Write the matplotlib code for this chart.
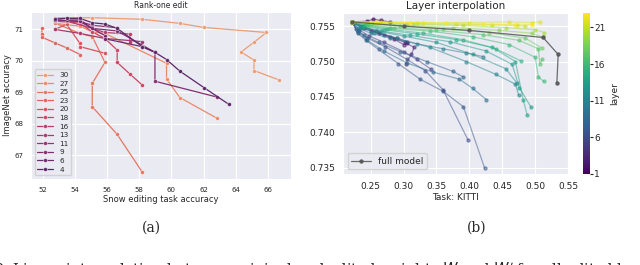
import matplotlib
matplotlib.use("Agg")
import matplotlib.pyplot as plt
import seaborn as sns
import numpy as np

sns.set_style("darkgrid")
plt.rcParams["font.family"] = ["DejaVu Sans"]

# ---- (a) rank-one edit: snow accuracy vs imagenet accuracy per layer
layers_a = [30, 27, 25, 23, 20, 18, 16, 13, 11, 9, 6, 4]
snow = {
    30: [52.76, 55.08, 58.19, 60.53, 62.02, 65.91, 65.14, 64.34, 65.14, 65.14, 66.70],
    27: [52.76, 54.32, 55.08, 55.87, 59.70, 59.70, 60.53, 62.81],
    25: [52.76, 54.32, 55.08, 55.87, 55.08, 55.08, 56.63, 58.19],
    23: [51.95, 51.95, 51.95, 52.76, 53.49, 54.32],
    20: [52.76, 53.49, 54.32, 54.32, 55.87],
    18: [52.76, 54.32, 55.08, 55.87, 56.63, 56.63, 57.42, 58.19],
    16: [53.49, 55.08, 55.87, 57.42, 57.42],
    13: [52.76, 54.32, 55.87, 58.19],
    11: [52.76, 54.32, 55.08, 56.63, 56.63],
    9: [53.49, 54.32, 55.08, 56.63, 58.98, 58.98, 62.81],
    6: [52.76, 54.32, 55.87, 55.87, 58.19, 58.98],
    4: [52.76, 53.49, 54.32, 55.08, 55.87, 56.63, 58.19, 58.98, 59.70, 60.53, 62.02, 63.59],
}
imnet = {
    30: [71.37, 71.37, 71.32, 71.19, 71.06, 70.90, 70.59, 70.28, 70.02, 69.69, 69.39],
    27: [71.19, 71.10, 70.92, 70.87, 69.92, 69.42, 68.83, 68.18],
    25: [71.20, 70.87, 70.77, 69.95, 69.28, 68.54, 67.66, 66.46],
    23: [71.03, 70.85, 70.75, 70.57, 70.41, 70.20],
    20: [71.00, 71.16, 70.55, 70.45, 70.24],
    18: [71.26, 71.20, 70.92, 70.71, 70.34, 69.95, 69.58, 69.23],
    16: [71.26, 71.03, 70.90, 70.85, 70.60],
    13: [71.00, 70.87, 70.71, 70.61],
    11: [71.30, 71.25, 71.13, 71.05, 70.90],
    9: [71.30, 71.30, 71.03, 70.95, 70.27, 69.35, 68.85],
    6: [71.30, 71.25, 70.80, 70.70, 70.45, 70.27],
    4: [71.33, 71.35, 71.35, 71.21, 71.17, 71.03, 70.45, 70.27, 70.04, 69.67, 69.15, 68.61],
}

# ---- (b) layer interpolation: KITTI vs imagenet per layer (1..23)
kitti = {
    1: [0.222, 0.245, 0.254, 0.265, 0.279],
    2: [0.222, 0.240, 0.262, 0.285, 0.300, 0.305],
    3: [0.222, 0.238, 0.258, 0.280, 0.302, 0.316, 0.312, 0.303],
    4: [0.222, 0.235, 0.250, 0.270, 0.290, 0.305],
    5: [0.222, 0.232, 0.248, 0.270, 0.300, 0.320, 0.342],
    6: [0.222, 0.230, 0.245, 0.272, 0.305, 0.333, 0.360, 0.398],
    7: [0.222, 0.230, 0.243, 0.262, 0.292, 0.325, 0.360, 0.391, 0.423],
    8: [0.222, 0.228, 0.240, 0.262, 0.295, 0.335, 0.375, 0.391],
    9: [0.222, 0.230, 0.245, 0.270, 0.305, 0.345, 0.385, 0.405, 0.426],
    10: [0.222, 0.232, 0.250, 0.280, 0.320, 0.360, 0.395, 0.421],
    11: [0.222, 0.235, 0.255, 0.290, 0.340, 0.395, 0.440, 0.470, 0.475],
    12: [0.222, 0.236, 0.260, 0.300, 0.350, 0.405, 0.455, 0.472],
    13: [0.222, 0.238, 0.265, 0.310, 0.370, 0.425, 0.465, 0.476, 0.494],
    14: [0.222, 0.240, 0.270, 0.320, 0.380, 0.435, 0.470, 0.482, 0.488],
    15: [0.222, 0.242, 0.275, 0.330, 0.390, 0.440, 0.478],
    16: [0.222, 0.244, 0.280, 0.340, 0.405, 0.460, 0.500, 0.505, 0.513],
    17: [0.222, 0.246, 0.285, 0.350, 0.420, 0.475, 0.505, 0.507, 0.511],
    18: [0.222, 0.250, 0.295, 0.360, 0.430, 0.485, 0.510],
    19: [0.222, 0.255, 0.305, 0.375, 0.445, 0.495, 0.512],
    20: [0.222, 0.260, 0.315, 0.390, 0.455, 0.500, 0.514],
    21: [0.222, 0.262, 0.320, 0.380, 0.435, 0.472, 0.485],
    22: [0.222, 0.265, 0.330, 0.400, 0.460, 0.495, 0.507],
    23: [0.222, 0.258, 0.310, 0.365, 0.420, 0.470, 0.495],
}
imagenet_b = {
    1: [0.7556, 0.7557, 0.7560, 0.7558, 0.7556],
    2: [0.7556, 0.7548, 0.7540, 0.7532, 0.7524, 0.7526],
    3: [0.7556, 0.7550, 0.7543, 0.7535, 0.7527, 0.7520, 0.7510, 0.7497],
    4: [0.7556, 0.7549, 0.7543, 0.7538, 0.7533, 0.7528],
    5: [0.7556, 0.7545, 0.7536, 0.7527, 0.7514, 0.7503, 0.7489],
    6: [0.7556, 0.7543, 0.7533, 0.7521, 0.7503, 0.7487, 0.7460, 0.7389],
    7: [0.7556, 0.7540, 0.7530, 0.7517, 0.7497, 0.7475, 0.7458, 0.7436, 0.7350],
    8: [0.7556, 0.7546, 0.7537, 0.7527, 0.7514, 0.7500, 0.7486, 0.7478],
    9: [0.7556, 0.7542, 0.7530, 0.7515, 0.7498, 0.7485, 0.7475, 0.7462, 0.7446],
    10: [0.7556, 0.7547, 0.7540, 0.7533, 0.7525, 0.7518, 0.7512, 0.7507],
    11: [0.7556, 0.7548, 0.7541, 0.7533, 0.7520, 0.7500, 0.7482, 0.7468, 0.7452],
    12: [0.7556, 0.7549, 0.7543, 0.7536, 0.7527, 0.7510, 0.7490, 0.7470],
    13: [0.7556, 0.7549, 0.7543, 0.7537, 0.7528, 0.7515, 0.7496, 0.7463, 0.7435],
    14: [0.7556, 0.7550, 0.7545, 0.7539, 0.7531, 0.7520, 0.7500, 0.7445, 0.7424],
    15: [0.7556, 0.7551, 0.7546, 0.7540, 0.7531, 0.7518, 0.7501],
    16: [0.7556, 0.7551, 0.7547, 0.7543, 0.7535, 0.7524, 0.7506, 0.7478, 0.7472],
    17: [0.7556, 0.7552, 0.7548, 0.7544, 0.7538, 0.7530, 0.7518, 0.7497, 0.7503],
    18: [0.7556, 0.7553, 0.7550, 0.7546, 0.7541, 0.7533, 0.7519],
    19: [0.7556, 0.7554, 0.7551, 0.7548, 0.7544, 0.7540, 0.7534],
    20: [0.7556, 0.7555, 0.7553, 0.7551, 0.7548, 0.7545, 0.7541],
    21: [0.7556, 0.7555, 0.7554, 0.7553, 0.7552, 0.7551, 0.7550],
    22: [0.7556, 0.7556, 0.7555, 0.7555, 0.7556, 0.7555, 0.7556],
    23: [0.7556, 0.7556, 0.7555, 0.7554, 0.7553, 0.7552, 0.7552],
}
full_kitti = [0.222, 0.300, 0.400, 0.512, 0.535, 0.533]
full_imnet = [0.7556, 0.7550, 0.7544, 0.7534, 0.7510, 0.7470]

fig = plt.figure(figsize=(6.4, 2.65), dpi=100)

# %% left panel
ax1 = fig.add_axes([0.0484, 0.3245, 0.406, 0.630])
pal = sns.color_palette("flare", len(layers_a))
for c, l in zip(pal, layers_a):
    ax1.plot(snow[l], imnet[l], "-o", color=c, ms=2.8, lw=0.9, mec="white",
             mew=0.3, label=str(l))
ax1.set_xlim(51.27, 67.43)
ax1.set_ylim(66.24, 71.55)
ax1.set_xticks(range(52, 67, 2))
ax1.set_yticks([67, 68, 69, 70, 71])
ax1.tick_params(labelsize=5, pad=2)
ax1.set_title("Rank-one edit", fontsize=5.5, pad=3)
ax1.set_xlabel("Snow editing task accuracy", fontsize=6, labelpad=2)
ax1.set_ylabel("ImageNet accuracy", fontsize=6, labelpad=2)
ax1.legend(loc="lower left", fontsize=5.2, handlelength=2.2, labelspacing=0.35,
           borderpad=0.4, frameon=True)

# %% right panel
ax2 = fig.add_axes([0.536, 0.3434, 0.3516, 0.6087])
cmap = plt.get_cmap("viridis")
norm = matplotlib.colors.Normalize(vmin=1, vmax=23)
for l in range(1, 24):
    ax2.plot(kitti[l], imagenet_b[l], "-o", color=cmap(norm(l)), alpha=0.5,
             ms=2.2, lw=0.9)
ax2.plot(full_kitti, full_imnet, "-o", color="#555555", alpha=0.85, ms=2.2,
         lw=0.9, label="full model")
ax2.set_xlim(0.208, 0.55)
ax2.set_ylim(0.7341, 0.7569)
ax2.set_xticks([0.25, 0.30, 0.35, 0.40, 0.45, 0.50, 0.55])
ax2.set_yticks([0.735, 0.740, 0.745, 0.750, 0.755])
ax2.tick_params(labelsize=6.5, pad=2)
ax2.set_title("Layer interpolation", fontsize=7.5, pad=3)
ax2.set_xlabel("Task: KITTI", fontsize=6.5, labelpad=2)
ax2.legend(loc="lower left", fontsize=6.5, handlelength=2.2)

cax = fig.add_axes([0.911, 0.3434, 0.011, 0.6087])
sm = matplotlib.cm.ScalarMappable(norm=norm, cmap=cmap)
cb = fig.colorbar(sm, cax=cax, ticks=[1, 6, 11, 16, 21])
cb.outline.set_visible(False)
cb.ax.tick_params(labelsize=6.5, length=2, pad=1)
cb.set_label("layer", fontsize=6.5, labelpad=3)

# captions
fig.text(0.236, 0.14, "(a)", ha="center", va="center", family="DejaVu Serif", fontsize=10)
fig.text(0.745, 0.14, "(b)", ha="center", va="center", family="DejaVu Serif", fontsize=10)
fig.text(-0.01, -0.018, "2: Linear interpolation between original and edited weights $W$ and $W'$ for all edited layers",
         ha="left", va="center", family="DejaVu Serif", fontsize=10.5)

fig.savefig("out.png", dpi=100)
